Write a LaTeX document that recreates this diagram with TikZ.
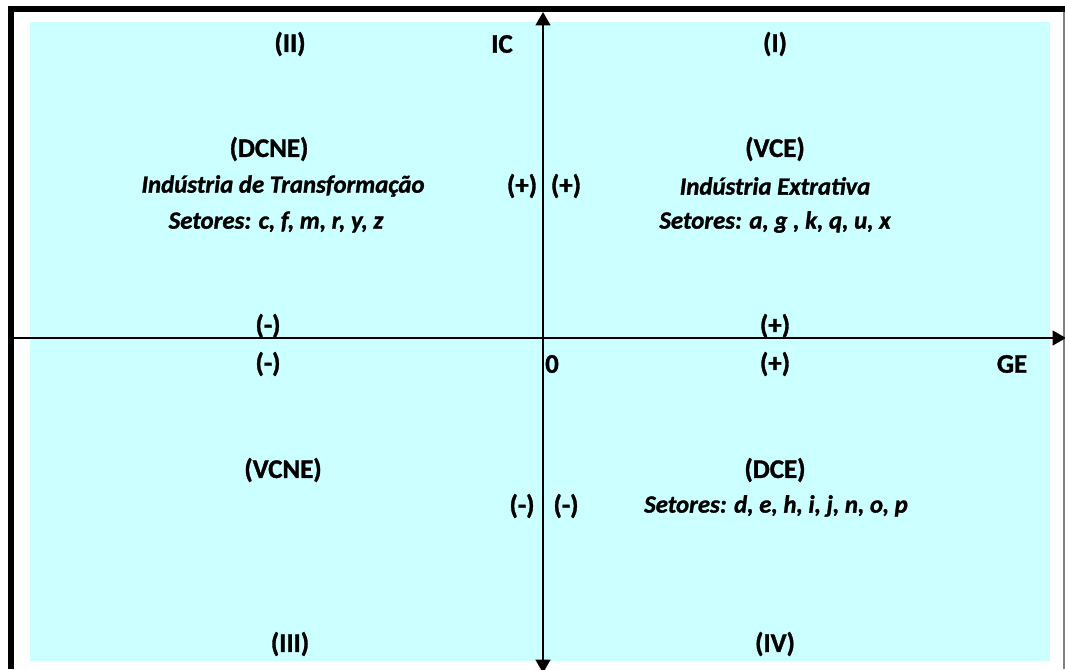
\documentclass[tikz,border=0pt]{standalone}
\usepackage{fontspec}
\setmainfont{Carlito}[BoldFeatures={FakeBold=1.2},BoldItalicFeatures={FakeBold=1.2}]
\usetikzlibrary{arrows.meta}
\definecolor{quadcyan}{RGB}{204,255,255}
\tikzset{
  lbl/.style={font=\fontsize{20.2}{23}\selectfont\bfseries, inner sep=0pt, anchor=center},
  ilbl/.style={font=\fontsize{18.6}{21}\selectfont\bfseries\itshape, inner sep=0pt, anchor=center},
  axis/.style={line width=1.6pt, -{Triangle[length=10pt,width=11pt]}},
}
\begin{document}
\begin{tikzpicture}[x=0.75pt,y=-0.75pt]
\useasboundingbox (0,0) rectangle (1065,669);
\fill[quadcyan] (30,22) rectangle (1050,661);
% frame
\draw[line width=4.5pt] (11,669) -- (11,9) -- (1065,9);
\draw[gray, line width=1pt] (1064,12) -- (1064,669);
% axes
\coordinate (ybot) at (543,660);
\coordinate (ytop) at (543,12);
\coordinate (xleft) at (14,338);
\coordinate (xright) at (1066,338);
\coordinate (ybot2) at (543,673);
\draw[axis] (ybot) -- (ytop);
\draw[axis] (ybot) -- (ybot2);
\draw[axis] (xleft) -- (xright);
% labels
\node[lbl] (q2) at (290,44) {(II)};
\node[lbl] (ic) at (502,44) {IC};
\node[lbl] (q1) at (775,44) {(I)};
\node[lbl] (dcne) at (269,149) {(DCNE)};
\node[ilbl] (itrans) at (283,186) {Indústria de Transformação};
\node[ilbl] (s2) at (276,222) {Setores: c, f, m, r, y, z};
\node[lbl] (vce) at (775,149) {(VCE)};
\node[ilbl] (iext) at (775,186) {Indústria Extrativa};
\node[ilbl] (s1) at (775,222) {Setores: a, g , k, q, u, x};
\node[lbl] (pp1) at (522,186) {(+)};
\node[lbl] (pp2) at (566,186) {(+)};
\node[lbl] (mx1) at (268,326) {(-)};
\node[lbl] (mx2) at (268,364) {(-)};
\node[lbl] (px1) at (775,326) {(+)};
\node[lbl] (px2) at (775,364) {(+)};
\node[lbl] (zero) at (552,364) {0};
\node[lbl] (ge) at (1012,364) {GE};
\node[lbl] (vcne) at (283,470) {(VCNE)};
\node[lbl] (dce) at (775,470) {(DCE)};
\node[ilbl] (s4) at (776,506) {Setores: d, e, h, i, j, n, o, p};
\node[lbl] (mm1) at (522,506) {(-)};
\node[lbl] (mm2) at (566,506) {(-)};
\node[lbl] (q3) at (290,644) {(III)};
\node[lbl] (q4) at (775,644) {(IV)};
\end{tikzpicture}
\end{document}
